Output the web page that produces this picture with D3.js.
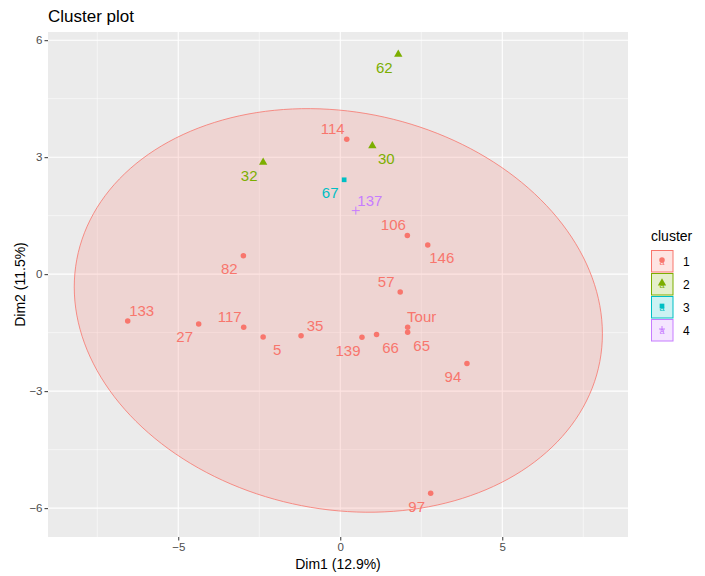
<!DOCTYPE html>
<html>
<head>
<meta charset="utf-8">
<script src="https://cdn.jsdelivr.net/npm/d3@7"></script>
<style>
  body { margin: 0; background: #ffffff; }
  svg { display: block; font-family: "Liberation Sans", Arial, sans-serif; }
</style>
</head>
<body>
<svg id="chart" width="705" height="576"></svg>
<script>
// data
var pointNames = ["114", "82", "106", "146", "57", "Tour", "65", "66", "139", "94", "97",
                  "133", "27", "117", "5", "35", "62", "30", "32", "67", "137"];
var dim1 = [0.20, -2.99, 2.07, 2.70, 1.85, 2.08, 2.08, 1.12, 0.67, 3.91, 2.79,
            -6.56, -4.37, -2.98, -2.38, -1.21, 1.79, 0.99, -2.38, 0.12, 0.48];
var dim2 = [3.46, 0.47, 0.99, 0.75, -0.46, -1.36, -1.49, -1.55, -1.62, -2.29, -5.62,
            -1.20, -1.28, -1.36, -1.61, -1.58, 5.64, 3.29, 2.87, 2.42, 1.63];
var cluster = [1, 1, 1, 1, 1, 1, 1, 1, 1, 1, 1,
               1, 1, 1, 1, 1, 2, 2, 2, 3, 4];
var clusterIds = [1, 2, 3, 4];
var xTicks = [-5, 0, 5];
var yTicks = [-6, -3, 0, 3, 6];
// ellipse of cluster 1: centre, radii and shear (data units)
var ellipseCenter = [-0.06, -0.93];
var ellipseRadii = [8.15, 5.14];
var ellipseShear = -0.6;

// where each label sits next to its point
var labelDir = ["ul", "ll", "ul", "lr", "ul", "ur", "lr", "lr", "ll", "ll", "ll",
                "ur", "ll", "ul", "lr", "ur", "ll", "lr", "ll", "ll", "ur"];

var colors = ["#F8766D", "#7CAE00", "#00BFC4", "#C77CFF"];
var shapes = [d3.symbolCircle, d3.symbolTriangle, d3.symbolSquare, d3.symbolCross];
var shapeSize = [24, 30, 22, 0];

var svg = d3.select("#chart");
var panel = { left: 48, top: 32, right: 628, bottom: 537 };

var x = d3.scaleLinear().domain([-9.02, 8.88]).range([panel.left, panel.right]);
var y = d3.scaleLinear().domain([-6.74, 6.21]).range([panel.bottom, panel.top]);

var color = d3.scaleOrdinal().domain(clusterIds).range(colors);

// panel background
svg.append("rect")
  .attr("x", panel.left)
  .attr("y", panel.top)
  .attr("width", panel.right - panel.left)
  .attr("height", panel.bottom - panel.top)
  .attr("fill", "#EBEBEB");

var grid = svg.append("g");

// minor grid halfway between the major ticks
var xMinor = [-7.5, -2.5, 2.5, 7.5];
var yMinor = [-4.5, -1.5, 1.5, 4.5];

grid.selectAll("line.xminor").data(xMinor).enter().append("line")
  .attr("x1", function (d) { return x(d); })
  .attr("x2", function (d) { return x(d); })
  .attr("y1", panel.top).attr("y2", panel.bottom)
  .attr("stroke", "#ffffff").attr("stroke-width", 0.55);
grid.selectAll("line.yminor").data(yMinor).enter().append("line")
  .attr("y1", function (d) { return y(d); })
  .attr("y2", function (d) { return y(d); })
  .attr("x1", panel.left).attr("x2", panel.right)
  .attr("stroke", "#ffffff").attr("stroke-width", 0.55);
grid.selectAll("line.xmajor").data(xTicks).enter().append("line")
  .attr("x1", function (d) { return x(d); })
  .attr("x2", function (d) { return x(d); })
  .attr("y1", panel.top).attr("y2", panel.bottom)
  .attr("stroke", "#ffffff").attr("stroke-width", 1.1);
grid.selectAll("line.ymajor").data(yTicks).enter().append("line")
  .attr("y1", function (d) { return y(d); })
  .attr("y2", function (d) { return y(d); })
  .attr("x1", panel.left).attr("x2", panel.right)
  .attr("stroke", "#ffffff").attr("stroke-width", 1.1);

// ellipse
var ellipsePts = d3.range(0, 361, 2).map(function (deg) {
  var t = deg * Math.PI / 180;
  return [ellipseCenter[0] + ellipseRadii[0] * Math.cos(t),
          ellipseCenter[1] + ellipseRadii[1] * Math.sin(t) + ellipseShear * Math.cos(t)];
});
svg.append("path")
  .datum(ellipsePts)
  .attr("d", d3.line()
    .x(function (d) { return x(d[0]); })
    .y(function (d) { return y(d[1]); })
    .curve(d3.curveLinearClosed))
  .attr("fill", colors[0])
  .attr("fill-opacity", 0.2)
  .attr("stroke", colors[0])
  .attr("stroke-width", 0.8);

// axes
var xAxis = svg.append("g")
  .attr("transform", "translate(0," + panel.bottom + ")")
  .call(d3.axisBottom(x).tickValues(xTicks).tickSize(3.5).tickPadding(2).tickFormat(d3.format("d")));
var yAxis = svg.append("g")
  .attr("transform", "translate(" + panel.left + ",0)")
  .call(d3.axisLeft(y).tickValues(yTicks).tickSize(3.5).tickPadding(2).tickFormat(d3.format("d")));

[xAxis, yAxis].forEach(function (a) {
  a.select(".domain").remove();
  a.selectAll(".tick line").attr("stroke", "#333333").attr("stroke-width", 1);
  a.selectAll(".tick text")
    .attr("fill", "#4D4D4D")
    .style("font-size", "11.5px")
    .style("font-family", "'Liberation Sans', Arial, sans-serif");
});

// points
var rows = pointNames.map(function (n, i) {
  return { name: n, x: dim1[i], y: dim2[i], cl: cluster[i], dir: labelDir[i] };
});

var marks = svg.append("g");
rows.forEach(function (d) {
  var k = d.cl - 1;
  if (d.cl === 4) {
    marks.append("path")
      .attr("d", "M-4,0H4M0,-4V4")
      .attr("transform", "translate(" + x(d.x) + "," + y(d.y) + ")")
      .attr("stroke", color(d.cl))
      .attr("stroke-width", 1)
      .attr("fill", "none");
  } else {
    marks.append("path")
      .attr("d", d3.symbol().type(shapes[k]).size(shapeSize[k]))
      .attr("transform", "translate(" + x(d.x) + "," + y(d.y) + ")")
      .attr("fill", color(d.cl));
  }
});

// labels
svg.append("g").selectAll("text")
  .data(rows)
  .enter().append("text")
  .attr("x", function (d) { return x(d.x) + (d.dir[1] === "l" ? -14 : 14); })
  .attr("y", function (d) { return y(d.y) + (d.dir[0] === "u" ? -10.5 : 13) + 5.4; })
  .attr("text-anchor", "middle")
  .attr("fill", function (d) { return color(d.cl); })
  .style("font-size", "15px")
  .text(function (d) { return d.name; });

// titles
svg.append("text")
  .attr("x", panel.left)
  .attr("y", 22)
  .style("font-size", "17px")
  .attr("fill", "#000000")
  .text("Cluster plot");

svg.append("text")
  .attr("x", (panel.left + panel.right) / 2)
  .attr("y", 569)
  .attr("text-anchor", "middle")
  .style("font-size", "14px")
  .text("Dim1 (12.9%)");

svg.append("text")
  .attr("transform", "translate(25," + ((panel.top + panel.bottom) / 2) + ") rotate(-90)")
  .attr("text-anchor", "middle")
  .style("font-size", "14px")
  .text("Dim2 (11.5%)");

// legend
var legend = svg.append("g").attr("transform", "translate(651,0)");
legend.append("text")
  .attr("x", 0)
  .attr("y", 241)
  .style("font-size", "14px")
  .text("cluster");

var keys = legend.selectAll("g.key")
  .data(clusterIds)
  .enter().append("g")
  .attr("transform", function (d, i) { return "translate(0," + (250 + i * 23) + ")"; });

keys.append("rect")
  .attr("x", 0.5).attr("y", 0.5)
  .attr("width", 21.5).attr("height", 21.5)
  .attr("fill", function (d) { return color(d); })
  .attr("fill-opacity", 0.2)
  .attr("stroke", function (d) { return color(d); })
  .attr("stroke-width", 1);

keys.append("path")
  .attr("d", function (d, i) {
    if (d === 4) return "M-3,0H3M0,-3V3";
    return d3.symbol().type(shapes[i]).size(shapeSize[i])();
  })
  .attr("transform", "translate(11,10)")
  .attr("fill", function (d) { return d === 4 ? "none" : color(d); })
  .attr("stroke", function (d) { return d === 4 ? color(d) : "none"; });

keys.append("text")
  .attr("x", 11)
  .attr("y", 15)
  .attr("text-anchor", "middle")
  .attr("fill", function (d) { return color(d); })
  .style("font-size", "9px")
  .text("a");

keys.append("text")
  .attr("x", 32)
  .attr("y", 15.5)
  .style("font-size", "12px")
  .text(function (d) { return d; });
</script>
</body>
</html>
